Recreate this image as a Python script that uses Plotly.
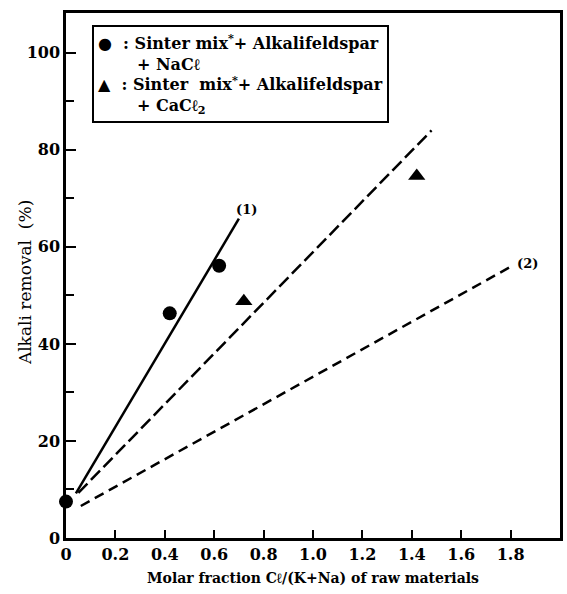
import plotly.graph_objects as go

# Data
nacl_x = [0.0, 0.42, 0.62]
nacl_y = [7.5, 46.3, 56.1]
cacl2_x = [0.72, 1.42]
cacl2_y = [48.8, 74.6]

line1_x = [0.04, 0.70]
line1_y = [9.2, 65.8]
line_mid_x = [0.05, 1.48]
line_mid_y = [9.3, 84.0]
line2_x = [0.06, 1.80]
line2_y = [6.6, 55.9]

x_ticks = [0, 0.2, 0.4, 0.6, 0.8, 1.0, 1.2, 1.4, 1.6, 1.8]
x_ticktext = ["0", "0.2", "0.4", "0.6", "0.8", "1.0", "1.2", "1.4", "1.6", "1.8"]
y_ticks = [0, 20, 40, 60, 80, 100]

SERIF = "DejaVu Serif"

fig = go.Figure()
fig.add_trace(go.Scatter(x=line1_x, y=line1_y, mode="lines",
                         line=dict(color="black", width=2.5)))
fig.add_trace(go.Scatter(x=line_mid_x, y=line_mid_y, mode="lines",
                         line=dict(color="black", width=2.5, dash="13px,5px")))
fig.add_trace(go.Scatter(x=line2_x, y=line2_y, mode="lines",
                         line=dict(color="black", width=2.5, dash="10px,6px")))
fig.add_trace(go.Scatter(x=nacl_x, y=nacl_y, mode="markers", cliponaxis=False,
                         marker=dict(symbol="circle", size=14, color="black")))
fig.add_trace(go.Scatter(x=cacl2_x, y=cacl2_y, mode="markers", cliponaxis=False,
                         marker=dict(symbol="triangle-up", size=15, color="black")))

fig.add_annotation(x=line1_x[1], y=line1_y[1], text="(1)", showarrow=False,
                   xanchor="left", yanchor="bottom", xshift=-5, yshift=0,
                   font=dict(family=SERIF, size=13, color="black", weight="bold"))
fig.add_annotation(x=line2_x[1], y=line2_y[1], text="(2)", showarrow=False,
                   xanchor="left", yanchor="middle", xshift=4, yshift=3,
                   font=dict(family=SERIF, size=13, color="black", weight="bold"))

legend_text = ("●  : Sinter mix<sup>*</sup>+ Alkalifeldspar<br>"
               "       + NaCℓ<br>"
               "▲  : Sinter  mix<sup>*</sup>+ Alkalifeldspar<br>"
               "       + CaCℓ<sub>2</sub>")
fig.add_annotation(xref="paper", yref="paper", x=0.052, y=0.977,
                   xanchor="left", yanchor="top", align="left", showarrow=False,
                   text=legend_text, bordercolor="black", borderwidth=2,
                   borderpad=4, bgcolor="white",
                   font=dict(family=SERIF, size=16, color="black", weight="bold"))

# y-axis title as annotation so it can sit close to the axis like the original
fig.add_annotation(xref="paper", yref="paper", x=-0.0825, y=0.486,
                   xanchor="center", yanchor="middle", textangle=-90,
                   showarrow=False, text="Alkali removal  (%)",
                   font=dict(family=SERIF, size=17, color="black"))

fig.update_layout(
    width=567, height=594,
    margin=dict(l=66, r=4, t=13, b=56),
    paper_bgcolor="white", plot_bgcolor="white",
    showlegend=False,
    font=dict(family=SERIF, color="black"),
    xaxis=dict(range=[0, 2.0], tickvals=x_ticks, ticktext=x_ticktext,
               ticks="inside", ticklen=8, tickwidth=1.5, tickcolor="black",
               showline=True, linecolor="black", linewidth=2.5, mirror=True,
               showgrid=False, zeroline=False,
               tickfont=dict(family=SERIF, size=16, weight="bold"),
               title=dict(text="Molar fraction Cℓ/(K+Na) of raw materials",
                          font=dict(family=SERIF, size=14, weight="bold"),
                          standoff=11)),
    yaxis=dict(range=[0, 108.2], tickvals=y_ticks,
               ticks="inside", ticklen=10, tickwidth=1.5, tickcolor="black",
               minor=dict(dtick=10, tick0=10, ticks="inside", ticklen=8,
                          tickwidth=1.5, tickcolor="black"),
               showline=True, linecolor="black", linewidth=2.5, mirror=True,
               showgrid=False, zeroline=False,
               tickfont=dict(family=SERIF, size=16, weight="bold")),
)

fig.write_html("out.html")
